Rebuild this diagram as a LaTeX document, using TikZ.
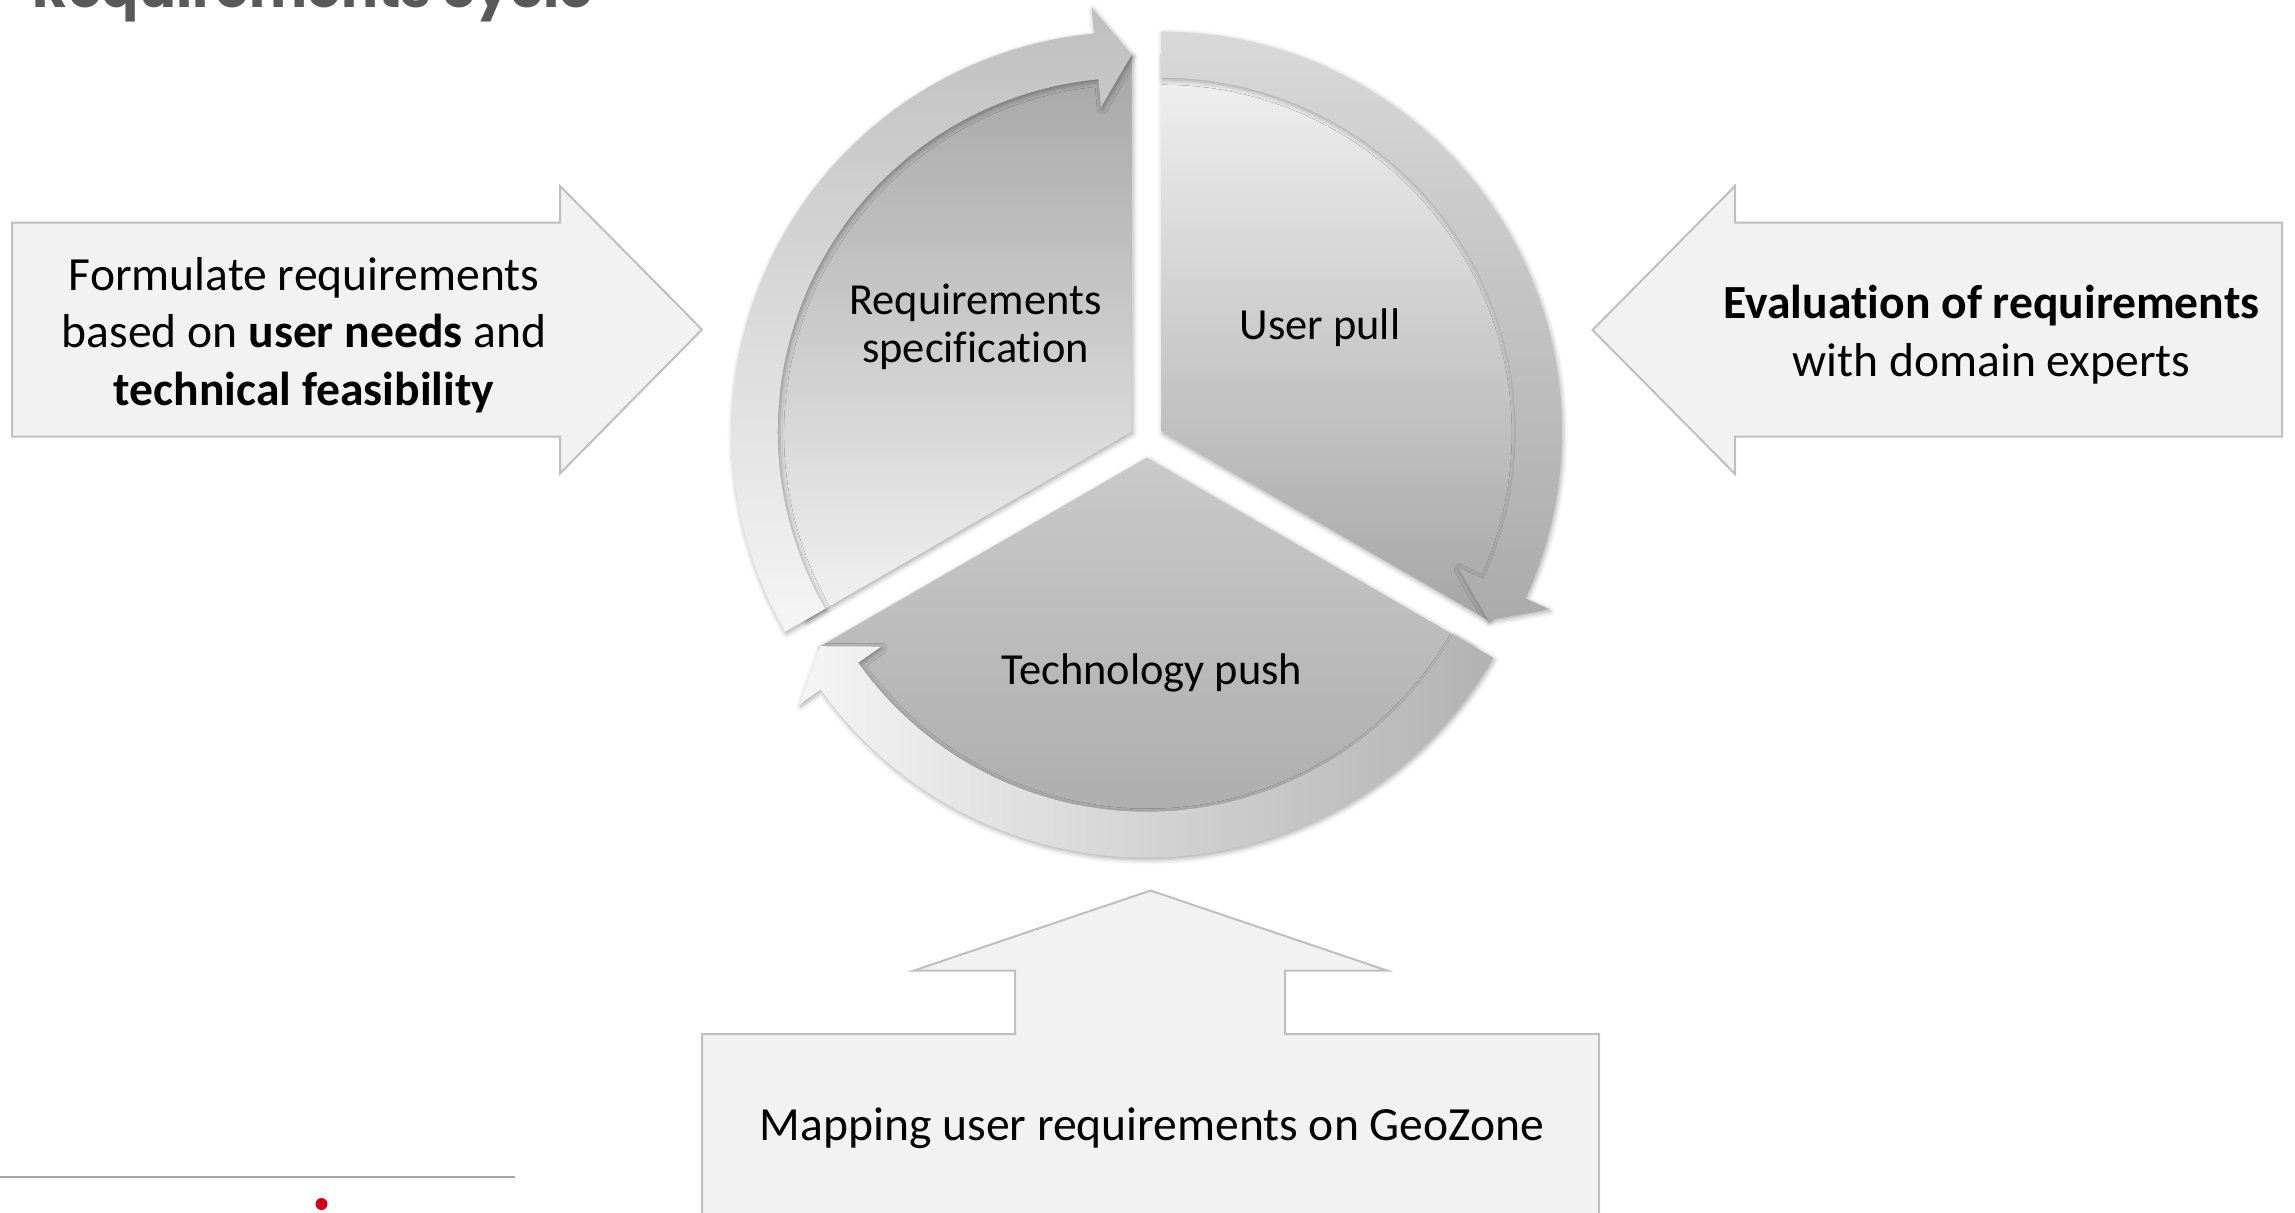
\documentclass[tikz,border=0pt]{standalone}
\usepackage{fontspec}
\usepackage{graphicx}
\setmainfont{Carlito}[Ligatures=NoCommon]
\newfontfamily\titlefont{Poppins}
\usetikzlibrary{shadows.blur}
\definecolor{arrowfill}{HTML}{F2F2F2}
\definecolor{arrowline}{HTML}{BFBFBF}
\definecolor{titlegray}{HTML}{595959}
\definecolor{rulegray}{HTML}{A6A6A6}
\definecolor{dotred}{RGB}{204,0,28}
\begin{document}
\begin{tikzpicture}[x=0.5pt,y=0.5pt,
  sidearrow/.style={fill=arrowfill, draw=arrowline, line width=1pt, line join=miter},
  sidetext/.style={font=\fontsize{23.8}{28.75}\selectfont, align=center, inner sep=0pt, anchor=base},
  cyctext/.style={font=\fontsize{22.2}{23.75}\selectfont, align=center, inner sep=0pt, anchor=base},
  segshadow/.style={blur shadow={shadow xshift=0.6pt, shadow yshift=-1pt, shadow blur radius=2.5pt, shadow opacity=35}}
]
\useasboundingbox (0,0) rectangle (2295,-1212);
\begin{scope}
\clip (0,0) rectangle (2295,-1212);

% title (cut off at top, as in the reference)
\node[anchor=base west, inner sep=0pt, text=titlegray] (title) at (32,-7)
  {\resizebox{280.5pt}{!}{\titlefont\bfseries Requirements cycle}};

% side arrows
\draw[sidearrow] (12,-222.5) -- (560,-222.5) -- (560,-186) -- (702,-329.5)
  -- (560,-473.5) -- (560,-436.5) -- (12,-436.5) -- cycle;
\draw[sidearrow] (2282,-222.5) -- (1735,-222.5) -- (1735,-186) -- (1592.5,-330)
  -- (1735,-474) -- (1735,-436.5) -- (2282,-436.5) -- cycle;
\draw[sidearrow] (702,-1240) -- (702,-1034) -- (1015,-1034) -- (1015,-970.5)
  -- (914,-970.5) -- (1150.5,-890.5) -- (1387,-970.5) -- (1285,-970.5)
  -- (1285,-1034) -- (1599,-1034) -- (1599,-1240);

% multi-line nodes: base anchor is the baseline of the last line
\node[sidetext] (lefttext) at (304,-405)
  {Formulate requirements\\based on \textbf{user needs} and\\\textbf{technical feasibility}};
\node[sidetext] (righttext) at (1991.5,-376)
  {\textbf{Evaluation of requirements}\\with domain experts};
\node[sidetext] (bottomtext) at (1152,-1140) {Mapping user requirements on GeoZone};

% pie sectors
\begin{scope}[shift={(1131.7,-431.7)}]
  \shade[segshadow, top color=black!35, bottom color=arrowfill]
    (0,0) -- (90:377) arc[start angle=90, end angle=210, radius=377] -- cycle;
\end{scope}
\begin{scope}[shift={(1161.7,-431.7)}]
  \shade[segshadow, top color=arrowfill, bottom color=black!35]
    (0,0) -- (-30:377) arc[start angle=-30, end angle=90, radius=377] -- cycle;
\end{scope}
\begin{scope}[shift={(1146.7,-457.7)}]
  \shade[segshadow, top color=black!21, bottom color=black!34]
    (0,0) -- (210:377) arc[start angle=210, end angle=330, radius=377] -- cycle;
\end{scope}

% circular arrows
\begin{scope}[shift={(1131.7,-431.7)}]
  \shade[segshadow, top color=black!25, bottom color=black!4]
    (210:400) arc[start angle=210, end angle=95.4, radius=400] -- (95.4:426) -- (90:377)
    -- (95.4:326) -- (95.4:354) arc[start angle=95.4, end angle=210, radius=354] -- cycle;
\end{scope}
\begin{scope}[shift={(1161.7,-431.7)}]
  \shade[segshadow, top color=black!15, bottom color=black!33]
    (90:400) arc[start angle=90, end angle=-24.6, radius=400] -- (-24.6:426) -- (-30:377)
    -- (-24.6:326) -- (-24.6:354) arc[start angle=-24.6, end angle=90, radius=354] -- cycle;
\end{scope}
\begin{scope}[shift={(1146.7,-457.7)}]
  \shade[segshadow, left color=black!4, right color=black!30]
    (330:400) arc[start angle=330, end angle=215.4, radius=400] -- (215.4:426) -- (210:377)
    -- (215.4:326) -- (215.4:354) arc[start angle=215.4, end angle=330, radius=354] -- cycle;
\end{scope}

\node[cyctext] (reqtext) at (975.5,-362) {Requirements\\specification};
\node[cyctext] (usertext) at (1320,-339.5) {User pull};
\node[cyctext] (techtext) at (1152,-684) {Technology push};

% footer rule and dot
\draw[rulegray, line width=1pt] (0,-1177) -- (515,-1177);
\fill[dotred] (321.5,-1204) circle[radius=6];
\end{scope}
\end{tikzpicture}
\end{document}
